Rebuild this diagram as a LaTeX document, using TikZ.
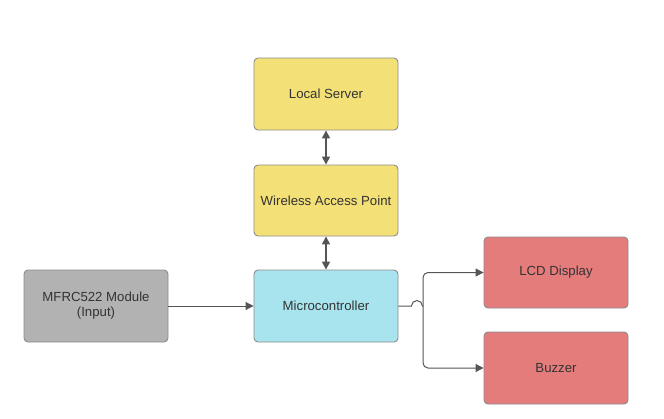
\documentclass[tikz,border=0pt]{standalone}
\usepackage{fontspec}
\setmainfont{Liberation Sans}
\usetikzlibrary{arrows.meta}
\definecolor{yel}{RGB}{243,224,118}
\definecolor{blu}{RGB}{168,228,238}
\definecolor{gry}{RGB}{178,178,178}
\definecolor{rd}{RGB}{229,124,124}
\definecolor{bord}{RGB}{140,140,140}
\definecolor{txt}{RGB}{51,51,51}
\definecolor{ln}{RGB}{85,85,85}
\tikzset{
  blk/.style={draw=bord, line width=0.9pt, rounded corners=4pt, minimum width=144pt, minimum height=72pt, inner sep=2pt, text=txt, font=\fontsize{13.2}{15}\selectfont, align=center},
  conn/.style={draw=ln, line width=1pt, -{Triangle[length=8pt,width=8pt]}},
  dconn/.style={draw=ln, line width=1.6pt, {Triangle[length=8pt,width=8pt]}-{Triangle[length=8pt,width=8pt]}}
}
\begin{document}
\begin{tikzpicture}[x=1pt,y=-1pt]
\useasboundingbox (0,0) rectangle (664,418);
\node[blk, fill=yel] (ls) at (326,94) {Local Server};
\node[blk, fill=yel, minimum height=71pt] (wap) at (326,200.5) {Wireless Access Point};
\node[blk, fill=blu] (mc) at (326,306) {Microcontroller};
\node[blk, fill=gry] (mf) at (96,306) {MFRC522 Module\\(Input)};
\node[blk, fill=rd, minimum height=71pt] (lcd) at (556,272.5) {LCD Display};
\node[blk, fill=rd] (bz) at (556,368) {Buzzer};
\draw[dconn] (ls) -- (wap);
\draw[dconn] (wap) -- (mc);
\draw[conn] (mf) -- (mc);
\coordinate (j) at (423,306);
\draw[draw=ln, line width=1pt] (mc.east) -- ++(13,0) arc[start angle=180, end angle=360, radius=5.5] -- (j);
\draw[conn, rounded corners=5pt] (j) |- (lcd.west);
\draw[conn, rounded corners=5pt] (j) |- (bz.west);
\end{tikzpicture}
\end{document}
